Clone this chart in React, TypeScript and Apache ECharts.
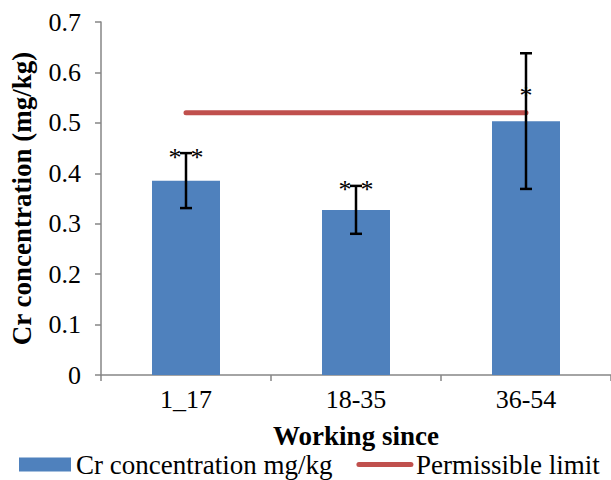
import React, { useEffect, useRef } from "react";
import * as echarts from "echarts";

const categories = ["1_17", "18-35", "36-54"];
const crValues = [0.385, 0.327, 0.503];
const errLow = [0.331, 0.28, 0.369];
const errHigh = [0.44, 0.375, 0.638];
const permissibleLimit = [0.52, 0.52, 0.52];
const starCounts = [2, 2, 1];
const starLevels = [0.44, 0.375, 0.563];

const FONT = "Liberation Serif, Times New Roman, serif";

export default function App() {
  const ref = useRef<HTMLDivElement>(null);
  useEffect(() => {
    if (!ref.current) return;
    const chart = echarts.init(ref.current, null, { renderer: "svg" });
    const errData = categories.map((_, i) => [i, errLow[i], errHigh[i], starLevels[i], starCounts[i]]);
    chart.setOption({
      animation: false,
      textStyle: { fontFamily: FONT, color: "#000" },
      grid: { left: 101, right: 0, top: 22, bottom: 105, containLabel: false },
      legend: {
        left: 19,
        top: 451,
        width: 600,
        padding: 0,
        itemWidth: 52,
        itemHeight: 14,
        itemGap: 24,
        textStyle: { fontFamily: FONT, fontSize: 27, color: "#000", padding: [0, 0, 0, 0] },
        data: [
          { name: "Cr concentration mg/kg", icon: "rect" },
          {
            name: "Permissible limit",
            itemStyle: { opacity: 0 },
            lineStyle: { width: 5, cap: "round", color: "#C0504D" },
          },
        ],
      },
      xAxis: {
        type: "category",
        data: categories,
        axisLine: { lineStyle: { color: "#868686", width: 1.5 } },
        axisTick: { show: true, length: 6, lineStyle: { color: "#868686", width: 1.5 } },
        axisLabel: { fontFamily: FONT, fontSize: 26, color: "#000", margin: 11 },
        name: "Working since",
        nameLocation: "middle",
        nameGap: 47,
        nameTextStyle: { fontFamily: FONT, fontSize: 27, fontWeight: "bold", color: "#000" },
      },
      yAxis: {
        type: "value",
        min: 0,
        max: 0.7,
        interval: 0.1,
        splitLine: { show: false },
        axisLine: { show: true, lineStyle: { color: "#868686", width: 1.5 } },
        axisTick: { show: true, length: 6, lineStyle: { color: "#868686", width: 1.5 } },
        axisLabel: {
          fontFamily: FONT,
          fontSize: 26,
          color: "#000",
          margin: 20,
          formatter: (v: number) => (v === 0 ? "0" : v.toFixed(1)),
        },
        name: "Cr concentration (mg/kg)",
        nameLocation: "middle",
        nameGap: 66,
        nameTextStyle: { fontFamily: FONT, fontSize: 27, fontWeight: "bold", color: "#000" },
      },
      series: [
        {
          name: "Cr concentration mg/kg",
          type: "bar",
          data: crValues,
          barWidth: "40%",
          itemStyle: { color: "#4F81BD" },
          z: 2,
        },
        {
          name: "Permissible limit",
          type: "line",
          data: permissibleLimit,
          symbol: "none",
          lineStyle: { color: "#C0504D", width: 5, cap: "round" },
          itemStyle: { color: "#C0504D" },
          z: 3,
        },
        {
          name: "error",
          type: "custom",
          data: errData,
          encode: { x: 0, y: [1, 2] },
          z: 5,
          renderItem: (params: any, api: any) => {
            const i = api.value(0);
            const lo = api.coord([i, api.value(1)]);
            const hi = api.coord([i, api.value(2)]);
            const st = api.coord([i, api.value(3)]);
            const n = api.value(4);
            const half = 6;
            const style = { stroke: "#000", lineWidth: 2.5 };
            const starStyle = (x: number) => ({
              type: "text",
              x,
              y: st[1] + 4,
              style: {
                text: "*",
                fontFamily: FONT,
                fontSize: 26,
                fill: "#000",
                align: "center",
                verticalAlign: "middle",
              },
            });
            const stars = n === 2 ? [starStyle(st[0] - 11), starStyle(st[0] + 11)] : [starStyle(st[0])];
            return {
              type: "group",
              children: [
                { type: "line", shape: { x1: lo[0], y1: lo[1], x2: hi[0], y2: hi[1] }, style },
                { type: "line", shape: { x1: hi[0] - half, y1: hi[1], x2: hi[0] + half, y2: hi[1] }, style },
                { type: "line", shape: { x1: lo[0] - half, y1: lo[1], x2: lo[0] + half, y2: lo[1] }, style },
                ...stars,
              ],
            };
          },
        },
      ],
    });
    return () => chart.dispose();
  }, []);
  return (
    <div
      ref={ref}
      style={{ position: "fixed", left: 0, top: 0, width: 611, height: 480, background: "#fff" }}
    />
  );
}
